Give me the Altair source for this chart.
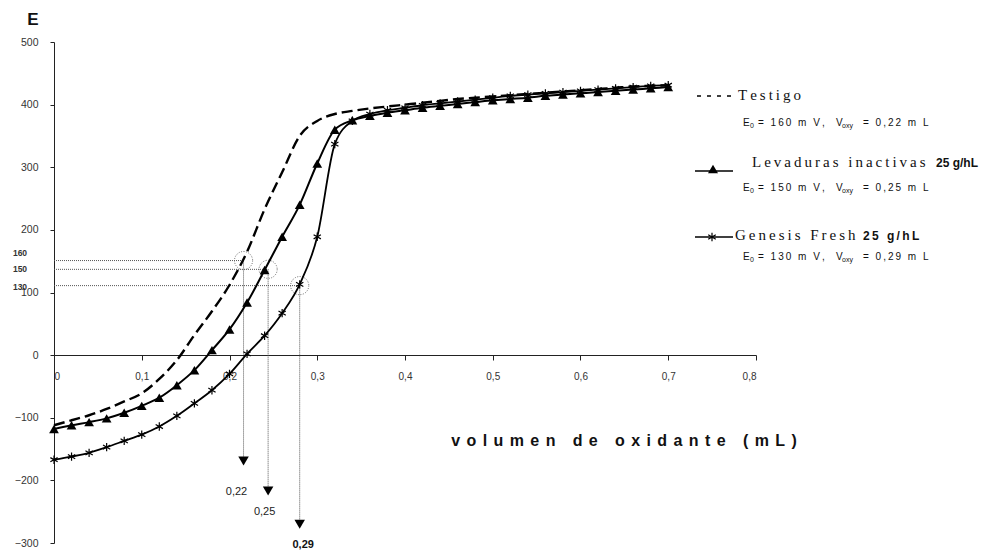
import altair as alt
import pandas as pd

# ---------------- data ----------------
vol = [0.00, 0.02, 0.04, 0.06, 0.08, 0.10, 0.12, 0.14, 0.16, 0.18,
       0.20, 0.22, 0.24, 0.26, 0.28, 0.30, 0.32, 0.34, 0.36, 0.38,
       0.40, 0.42, 0.44, 0.46, 0.48, 0.50, 0.52, 0.54, 0.56, 0.58,
       0.60, 0.62, 0.64, 0.66, 0.68, 0.70]

testigo = [-112, -104, -96, -86, -74, -61, -38, -8, 32, 70,
           112, 165, 233, 292, 350, 374, 385, 390, 394, 397,
           400, 403, 406, 409, 411, 413, 415, 417, 419, 421,
           423, 425, 427, 429, 430, 431]

levaduras = [-118, -112, -107, -101, -92, -81, -68, -48, -24, 8,
             41, 84, 136, 189, 240, 306, 360, 375, 382, 387,
             391, 395, 398, 401, 404, 407, 409, 411, 414, 416,
             418, 420, 422, 424, 426, 428]

genesis = [-167, -162, -156, -147, -137, -127, -114, -97, -77, -56,
           -30, 2, 31, 67, 113, 189, 337, 374, 385, 391,
           395, 399, 402, 405, 408, 411, 414, 416, 418, 420,
           422, 424, 426, 428, 430, 431]

# equivalence-point annotations
eq_vol = [0.216, 0.244, 0.280]
eq_E = [151, 137, 111]
arrow_E = [-169, -217, -270]
eq_text = ["0,22", "0,25", "0,29"]
eq_text_vol = [0.208, 0.240, 0.284]
eq_text_E = [-218, -250, -303]
eq_text_bold = [False, False, True]
e0_text = ["160", "150", "130"]
e0_text_E = [163, 137, 109]

x_ticks = [0.0, 0.1, 0.2, 0.3, 0.4, 0.5, 0.6, 0.7, 0.8]
y_ticks = [-300, -200, -100, 0, 100, 200, 300, 400, 500]

legend_names = ["Testigo", "Levaduras inactivas", "Genesis Fresh"]
legend_dose = "25 g/hL"
legend_e0 = ["160", "150", "130"]
legend_v = ["0,22", "0,25", "0,29"]

SANS = "Liberation Sans"
SERIF = "Liberation Serif"
THIN = "\u2009"


def spaced(s, sep=THIN):
    return sep.join(list(s))


# ---------------- scales / encodings ----------------
xs = alt.Scale(domain=[0, 0.8], nice=False)
ys = alt.Scale(domain=[-300, 500], nice=False)

x_axis = alt.Axis(values=x_ticks, offset=-188, title=None, grid=False,
                  labelExpr="datum.value == 0 ? '0' : replace(format(datum.value, '.1f'), '.', ',')",
                  tickSize=5, labelPadding=11, labelFontSize=10, labelFont=SANS,
                  labelColor="#333", domainColor="#222", tickColor="#222")
y_axis = alt.Axis(values=y_ticks, title=None, grid=False, format="d",
                  tickSize=4, labelPadding=12, labelFontSize=10.5, labelFont=SANS,
                  labelColor="#333", domainColor="#222", tickColor="#222")


def X(field):
    return alt.X(field, type="quantitative", scale=xs, axis=x_axis)


def Y(field):
    return alt.Y(field, type="quantitative", scale=ys, axis=y_axis)


df_t = pd.DataFrame({"vol": vol, "E": testigo})
df_l = pd.DataFrame({"vol": vol, "E": levaduras})
df_g = pd.DataFrame({"vol": vol, "E": genesis})

line_t = alt.Chart(df_t).mark_line(interpolate="monotone", color="black",
                                    strokeWidth=2.4, strokeDash=[11, 5]).encode(x=X("vol"), y=Y("E"))
line_l = alt.Chart(df_l).mark_line(interpolate="monotone", color="black",
                                    strokeWidth=2).encode(x=X("vol"), y=Y("E"))
pts_l = alt.Chart(df_l).mark_point(shape="triangle-up", filled=True, color="black",
                                    size=95, opacity=1).encode(x=X("vol"), y=Y("E"))
line_g = alt.Chart(df_g).mark_line(interpolate="monotone", color="black",
                                    strokeWidth=1.8).encode(x=X("vol"), y=Y("E"))
STAR = "M-0.87,-0.5L0.87,0.5M-0.87,0.5L0.87,-0.5M0,-1L0,1"
pts_g = alt.Chart(df_g).mark_point(shape=STAR, filled=False, stroke="black",
                                    strokeWidth=1.2, size=70, opacity=1).encode(x=X("vol"), y=Y("E"))

ann = pd.DataFrame({"vx": eq_vol, "E": eq_E, "x0": [0, 0, 0], "aE": arrow_E})
h_guides = alt.Chart(ann).mark_rule(color="#555", strokeWidth=1, strokeDash=[1, 1]).encode(
    x=X("x0"), x2="vx:Q", y=Y("E"))
v_guides = alt.Chart(ann).mark_rule(color="#555", strokeWidth=1, strokeDash=[1, 1]).encode(
    x=X("vx"), y=Y("E"), y2="aE:Q")
circles = alt.Chart(ann).mark_point(shape="circle", filled=False, stroke="#666", strokeWidth=1,
                                    strokeDash=[1, 1.5], size=330, opacity=1).encode(x=X("vx"), y=Y("E"))
arrows = alt.Chart(ann).mark_point(shape="triangle-down", filled=True, color="black",
                                   size=110, opacity=1).encode(x=X("vx"), y=Y("aE"))

ann_t = pd.DataFrame({"vol": eq_text_vol, "E": eq_text_E, "t": eq_text, "b": eq_text_bold})
eq_labels_n = alt.Chart(ann_t[~ann_t["b"]]).mark_text(font=SANS, fontSize=11, color="#222", align="center",
                                                      baseline="middle").encode(
    x=X("vol"), y=Y("E"), text="t:N")
eq_labels_b = alt.Chart(ann_t[ann_t["b"]]).mark_text(font=SANS, fontSize=11, color="#111", align="center",
                                                     baseline="middle", fontWeight="bold").encode(
    x=X("vol"), y=Y("E"), text="t:N")

ann_e = pd.DataFrame({"E": e0_text_E, "t": e0_text})
e0_labels = alt.Chart(ann_e).mark_text(font=SANS, fontSize=8.5, fontWeight="bold", color="#333",
                                       align="center", baseline="middle").encode(
    x=alt.value(-34), y=Y("E"), text="t:N")

one = pd.DataFrame({"k": [0]})


def label(txt, x, y, size=10, font=SANS, weight="normal", align="left", baseline="middle", color="#111"):
    return alt.Chart(one).mark_text(text=txt, fontSize=size, font=font, fontWeight=weight,
                                    align=align, baseline=baseline, color=color).encode(
        x=alt.value(x), y=alt.value(y))


def hline(x1, x2, y, dash=None, width=1.3):
    kw = {"color": "black", "strokeWidth": width}
    if dash:
        kw["strokeDash"] = dash
    return alt.Chart(one).mark_rule(**kw).encode(x=alt.value(x1), x2=alt.value(x2), y=alt.value(y))


legend_layers = []
# entry 1
legend_layers.append(hline(643, 679, 54, dash=[4, 6]))
legend_layers.append(label(spaced(legend_names[0]), 684, 53, size=15, font=SERIF))
# entry 2
legend_layers.append(hline(641, 679, 129))
legend_layers.append(alt.Chart(one).mark_point(shape="triangle-up", filled=True, color="black",
                                               size=100, opacity=1).encode(x=alt.value(659), y=alt.value(127)))
legend_layers.append(label(spaced(legend_names[1]), 698, 120, size=15, font=SERIF))
legend_layers.append(label(legend_dose, 882, 121, size=12, weight="bold"))
# entry 3
legend_layers.append(hline(641, 679, 195))
legend_layers.append(alt.Chart(one).mark_point(shape=STAR, filled=False, stroke="black", strokeWidth=1.2,
                                               size=75, opacity=1).encode(x=alt.value(658), y=alt.value(195)))
legend_layers.append(label(spaced(legend_names[2]), 681, 193, size=15, font=SERIF))
legend_layers.append(label(spaced(legend_dose), 809, 194, size=12, weight="bold"))

# E0 / Voxy lines
for yy, e0, vv in zip([81, 146, 215], legend_e0, legend_v):
    legend_layers.append(label("E", 689, yy, size=10))
    legend_layers.append(label("0", 696, yy + 3, size=7))
    legend_layers.append(label(spaced("= " + e0 + " m V,"), 704, yy, size=10))
    legend_layers.append(label("V", 782, yy, size=10))
    legend_layers.append(label("oxy", 788, yy + 3, size=7))
    legend_layers.append(label(spaced("= " + vv + " m L"), 809, yy, size=10))

# axis titles
y_title = label("E", -21, -22, size=17, weight="bold", align="center")
x_title = label(spaced("volumen de oxidante (mL)", THIN + THIN), 570, 399, size=16,
                weight="bold", align="center")

chart = alt.layer(
    h_guides, v_guides, circles, arrows,
    line_t, line_l, line_g, pts_l, pts_g,
    eq_labels_n, eq_labels_b, e0_labels, y_title, x_title,
    *legend_layers
).properties(
    width=702, height=501,
    padding={"left": 46, "top": 34, "right": 224, "bottom": 9},
    autosize=alt.AutoSizeParams(type="none"),
    background="white",
).configure_view(stroke=None)

chart.save("out.html", embed_options={"renderer": "svg", "actions": False})
